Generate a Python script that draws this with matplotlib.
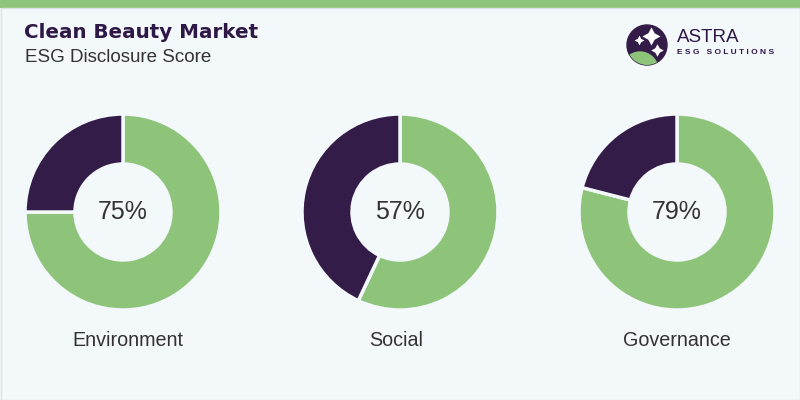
import matplotlib.pyplot as plt
from matplotlib.patches import Circle, Rectangle

## Data
categories = ["Environment", "Social", "Governance"]
scores = [75, 57, 79]

green = "#8ec47a"
purple = "#331c48"
bg = "#f3f8fb"

fig = plt.figure(figsize=(8, 4), dpi=100)
fig.patch.set_facecolor(bg)

## Top bar and thin frame
fig.add_artist(Rectangle((0, 1 - 7 / 400), 1, 7 / 400, transform=fig.transFigure, color=green, zorder=0))
fig.add_artist(Rectangle((0.5 / 800, 0.5 / 400), 1 - 1 / 800, 1 - 8 / 400, transform=fig.transFigure,
                         fill=False, edgecolor="#dde3e8", linewidth=1))

## Title
fig.text(24 / 800, 1 - 32 / 400, "Clean Beauty Market", fontsize=14.3, fontweight="bold",
         color="#2e1846", family="DejaVu Sans", va="center")
fig.text(25 / 800, 1 - 58 / 400, "ESG Disclosure Score", fontsize=13.5, color="#333333",
         family="Liberation Sans", va="center")

## Logo
lax = fig.add_axes([622 / 800, 1 - 70 / 400, 50 / 800, 50 / 400])
lax.set_xlim(-1.25, 1.25)
lax.set_ylim(-1.25, 1.25)
lax.set_aspect("equal")
lax.axis("off")
circ = Circle((0, 0), 1, color=purple)
lax.add_patch(circ)
crescent = Circle((-0.35, -1.25), 0.9, color=green)
lax.add_patch(crescent)
crescent.set_clip_path(circ)
lax.plot([0.2], [0.45], marker=(4, 1, 0), markersize=13, color="white", markeredgewidth=0)
lax.plot([-0.4], [0.25], marker=(4, 1, 0), markersize=7, color="white", markeredgewidth=0)
lax.plot([0.5], [-0.25], marker=(4, 1, 0), markersize=9, color="white", markeredgewidth=0)
fig.text(677 / 800, 1 - 37 / 400, "ASTRA", fontsize=13.5, color="#2e1846",
         family="Liberation Sans", va="center")
fig.text(677 / 800, 1 - 53 / 400, "E S G   S O L U T I O N S", fontsize=6.0, fontweight="bold",
         color="#2e1846", family="Liberation Sans", va="center")

## Donuts
centers = [123, 400, 677]
label_x = [128, 396, 677]
for cx, lx, cat, s in zip(centers, label_x, categories, scores):
    ax = fig.add_axes([(cx - 100) / 800, (400 - 212 - 100) / 400, 200 / 800, 200 / 400])
    ax.pie([s, 100 - s], colors=[green, purple], startangle=90, counterclock=False,
           radius=0.98, wedgeprops=dict(width=0.5, edgecolor=bg, linewidth=2.5))
    ax.set_xlim(-1, 1)
    ax.set_ylim(-1, 1)
    ax.set_aspect("equal")
    ax.text(0, 0, f"{s}%", ha="center", va="center", fontsize=18, color="#333333",
            family="Liberation Sans")
    fig.text(lx / 800, 1 - 341 / 400, cat, ha="center", va="center", fontsize=14.2,
             color="#333333", family="Liberation Sans")

plt.savefig("out.png", dpi=100, facecolor=bg)
